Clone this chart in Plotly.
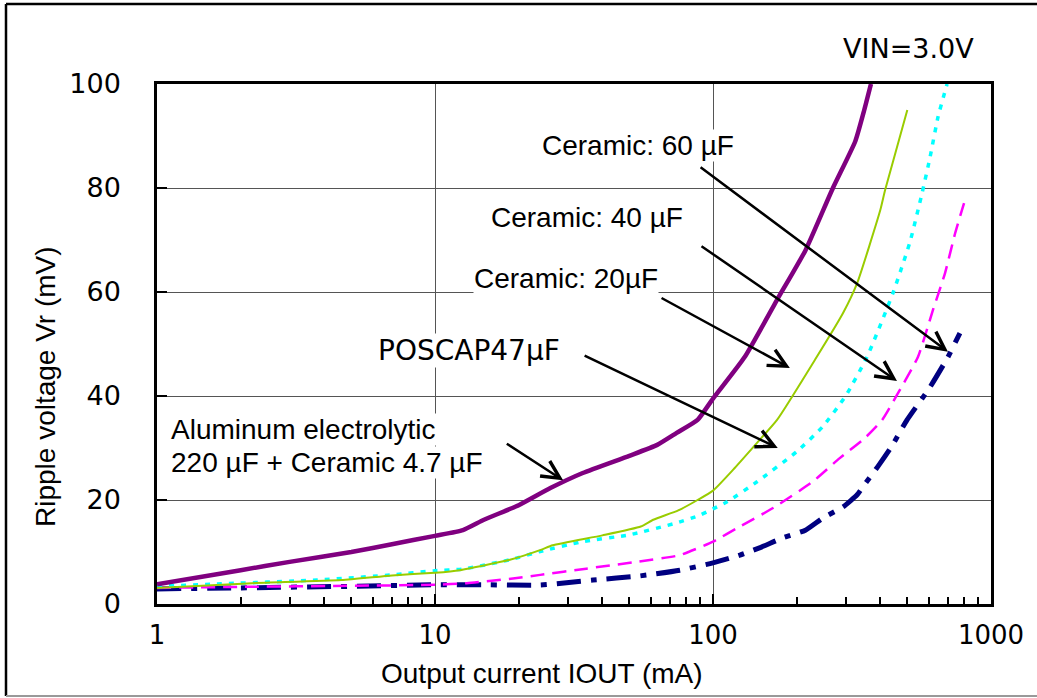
import math
import plotly.graph_objects as go

# Ripple voltage vs. output current, VIN = 3.0 V
alu_i = [1, 2, 3, 5, 7, 10, 12.6, 15, 20, 26, 34, 50, 63, 74, 88, 100, 130, 170, 215, 270, 325, 350, 370]
alu_v = [3.8, 6.5, 8.1, 10.0, 11.5, 13.1, 14.2, 16.2, 19.0, 22.3, 25.2, 28.5, 30.6, 32.9, 35.4, 39.5, 47.5, 58.5, 68.0, 80.0, 89.0, 95.0, 100.0]

c20_i = [1, 2.2, 4.6, 7, 10, 12.3, 18.6, 24, 26.5, 40, 55, 61, 75, 88, 100, 118, 144, 170, 233, 294, 330, 400, 416, 500]
c20_v = [3.1, 4.0, 4.6, 5.5, 6.0, 6.5, 8.5, 10.4, 11.3, 13.2, 14.9, 16.2, 18.0, 20.0, 21.8, 25.8, 31.0, 35.4, 47.0, 56.0, 61.7, 75.8, 79.6, 95.0]

pos_i = [1, 1.64, 3.76, 7, 10, 12.5, 18.6, 23.9, 34, 50, 74, 90, 100, 112, 144, 200, 248, 300, 358, 444, 511, 565, 604, 645, 695]
pos_v = [3.4, 3.85, 4.6, 5.6, 6.4, 6.7, 8.5, 10.1, 12.0, 13.3, 15.6, 17.1, 18.3, 19.6, 23.5, 29.3, 34.1, 40.0, 47.5, 59.8, 69.6, 79.0, 86.0, 93.7, 100.0]

c40_i = [1, 2, 5, 10, 13, 19.7, 23.9, 35, 53, 76, 100, 125, 165, 228, 285, 350, 406, 459, 546, 618, 683, 743, 800]
c40_v = [3.1, 3.3, 3.5, 3.7, 4.0, 5.0, 5.6, 6.8, 8.1, 9.4, 12.0, 14.9, 18.5, 23.5, 28.0, 31.8, 35.4, 40.2, 47.5, 56.5, 63.6, 71.3, 77.1]

c60_i = [1, 2, 5, 10, 15, 23.9, 37, 54.6, 76, 100, 125, 147, 178, 215, 248, 294, 330, 350, 395, 438, 499, 600, 700, 773]
c60_v = [2.9, 3.1, 3.4, 3.7, 3.7, 3.65, 4.6, 5.4, 6.5, 7.9, 9.4, 10.8, 12.7, 14.2, 16.5, 18.7, 21.0, 22.9, 26.7, 30.2, 35.4, 41.5, 47.5, 52.1]

x_ticks = [1, 10, 100, 1000]
x_tick_text = ["1", "10", "100", "1000"]
x_minor_ticks = [2, 3, 4, 5, 6, 7, 8, 9, 20, 30, 40, 50, 60, 70, 80, 90,
                 200, 300, 400, 500, 600, 700, 800, 900]
y_ticks = [0, 20, 40, 60, 80, 100]

# Callout arrows: arrow tail (mA, mV) -> arrow tip on the curve (mA, mV)
callouts = [
    ("Ceramic: 60 µF", (89.1, 84.2), (700, 48.5)),
    ("Ceramic: 40 µF", (89.8, 69.0), (459, 42.9)),
    ("Ceramic: 20µF", (64.5, 59.0), (189, 45.4)),
    ("POSCAP47μF", (34.1, 47.9), (171, 30.0)),
    ("Aluminum electrolytic", (17.9, 31.0), (28.9, 23.8)),
]

W, H = 1037, 698
L, R, T, B = 157, 46, 84, 94
PW, PH = W - L - R, H - T - B


def px(xp):
    return (xp - L) / PW


def py(yp):
    return (H - B - yp) / PH


fig = go.Figure()

smooth = dict(shape="spline", smoothing=0.5)
fig.add_trace(go.Scatter(x=c60_i, y=c60_v, mode="lines", name="Ceramic 60 µF",
                         line=dict(color="#000080", width=5, dash="24px,10px,6px,10px", **smooth)))
fig.add_trace(go.Scatter(x=c40_i, y=c40_v, mode="lines", name="Ceramic 40 µF",
                         line=dict(color="#FF00FF", width=2.5, dash="14px,8px", **smooth)))
fig.add_trace(go.Scatter(x=pos_i, y=pos_v, mode="lines", name="POSCAP 47 µF",
                         line=dict(color="#00FFFF", width=3.5, dash="5px,7px", **smooth)))
fig.add_trace(go.Scatter(x=c20_i, y=c20_v, mode="lines", name="Ceramic 20 µF",
                         line=dict(color="#99CC00", width=2, **smooth)))
fig.add_trace(go.Scatter(x=alu_i, y=alu_v, mode="lines", name="Aluminum electrolytic",
                         line=dict(color="#800080", width=4.5, **smooth)))

label_font = dict(family="Arial, Liberation Sans, sans-serif", size=28, color="black")
tick_font = dict(family="DejaVu Sans, sans-serif", size=27, color="black")

annotations = []
for text, (tx, ty), (hx, hy) in callouts:
    annotations.append(dict(
        x=math.log10(hx), y=hy, xref="x", yref="y",
        ax=math.log10(tx), ay=ty, axref="x", ayref="y",
        text="", showarrow=True, arrowhead=5, arrowsize=1.4,
        arrowwidth=2.5, arrowcolor="black", standoff=0, startstandoff=0,
    ))

text_boxes = [
    ("Ceramic: 60 µF", 638, 145, "center", label_font),
    ("Ceramic: 40 µF", 587, 217, "center", label_font),
    ("Ceramic: 20µF", 566, 278, "center", label_font),
    ("POSCAP47μF", 469, 350, "center", dict(tick_font, size=28)),
    ("Aluminum electrolytic", 170, 429, "left", label_font),
    ("220 µF + Ceramic 4.7 µF", 170, 462, "left", label_font),
]
for text, xc, yc, anchor, font in text_boxes:
    annotations.append(dict(
        x=px(xc), y=py(yc), xref="paper", yref="paper", text=text,
        showarrow=False, xanchor=anchor, yanchor="middle",
        bgcolor="white", borderpad=0, font=font,
    ))

annotations.append(dict(x=px(908), y=py(48), xref="paper", yref="paper",
                        text="VIN=3.0V", showarrow=False, xanchor="center",
                        yanchor="middle", font=tick_font))
annotations.append(dict(x=px(542), y=py(673), xref="paper", yref="paper",
                        text="Output current IOUT (mA)", showarrow=False,
                        xanchor="center", yanchor="middle", font=label_font))
annotations.append(dict(x=px(46), y=py(387), xref="paper", yref="paper",
                        text="Ripple voltage Vr (mV)", showarrow=False,
                        textangle=-90, xanchor="center", yanchor="middle",
                        font=label_font))

# Outer frame around the chart
frame_top, frame_left, frame_bottom, frame_right = py(4), px(6), py(696), px(1045)
shapes = [
    dict(type="line", xref="paper", yref="paper", x0=frame_left, x1=frame_right,
         y0=frame_top, y1=frame_top, line=dict(color="black", width=2.5)),
    dict(type="line", xref="paper", yref="paper", x0=frame_left, x1=frame_left,
         y0=frame_top, y1=frame_bottom, line=dict(color="black", width=2.5)),
    dict(type="line", xref="paper", yref="paper", x0=frame_left, x1=frame_right,
         y0=frame_bottom, y1=frame_bottom, line=dict(color="#999999", width=2)),
]

fig.update_layout(
    width=W, height=H,
    margin=dict(l=L, r=R, t=T, b=B),
    paper_bgcolor="white", plot_bgcolor="white",
    showlegend=False,
    annotations=annotations,
    shapes=shapes,
    xaxis=dict(
        type="log", range=[0, 3], tickvals=x_ticks, ticktext=x_tick_text,
        ticks="inside", ticklen=10, tickwidth=1.5, tickcolor="black",
        showgrid=True, gridcolor="#555555", gridwidth=1,
        showline=True, linecolor="black", linewidth=2.5, mirror=True,
        zeroline=False, tickfont=dict(tick_font, size=26), ticklabelstandoff=6,
        minor=dict(ticks="inside", ticklen=7, tickwidth=1.5, tickcolor="black",
                   tickvals=x_minor_ticks, showgrid=False),
    ),
    yaxis=dict(
        range=[0, 100], tickvals=y_ticks,
        ticks="inside", ticklen=10, tickwidth=1.5, tickcolor="black",
        showgrid=True, gridcolor="#555555", gridwidth=1,
        showline=True, linecolor="black", linewidth=2.5, mirror=True,
        zeroline=False, tickfont=tick_font, ticklabelstandoff=28,
    ),
)

fig.write_html("out.html")
